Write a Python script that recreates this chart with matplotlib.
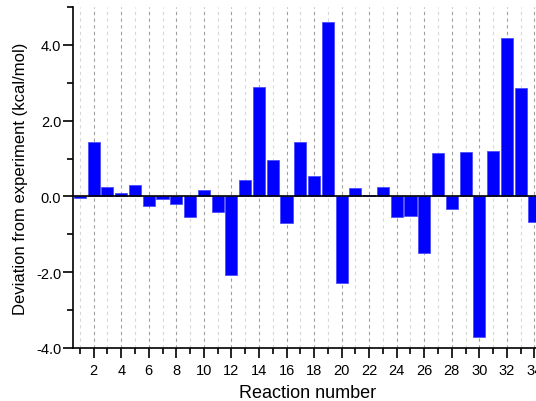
import numpy as np
import matplotlib.pyplot as plt
from matplotlib.ticker import MultipleLocator, FormatStrFormatter

plt.rcParams['font.family'] = ['Liberation Sans', 'DejaVu Sans']

# reaction index and deviation (kcal/mol)
reactions = np.arange(1, 35)
deviation = [-0.05, 1.44, 0.25, 0.10, 0.30, -0.24, -0.06, -0.20, -0.53, 0.16,
             -0.41, -2.07, 0.44, 2.89, 0.96, -0.70, 1.44, 0.55, 4.61, -2.29,
             0.22, 0.04, 0.24, -0.55, -0.52, -1.49, 1.15, -0.34, 1.17, -3.72,
             1.20, 4.17, 2.85, -0.68]

fig = plt.figure(figsize=(5.36, 4.02), dpi=100)
ax = fig.add_axes([73 / 536, 1 - 349 / 402, 1 - 73 / 536 + 0.01, (349 - 8) / 402])

ax.bar(reactions, deviation, width=0.88, color="#0000ff", edgecolor="#4d4dff",
       linewidth=0.6, zorder=3)
ax.axhline(0, color="black", lw=1.2, zorder=4)

ax.set_xlim(0.5, 34.5)
ax.set_ylim(-4, 5)

ax.xaxis.set_major_locator(MultipleLocator(2))
ax.xaxis.set_minor_locator(MultipleLocator(1))
ax.yaxis.set_major_locator(MultipleLocator(2))
ax.yaxis.set_minor_locator(MultipleLocator(1))
ax.yaxis.set_major_formatter(FormatStrFormatter("%.1f"))

# vertical dashed grid, darker at even numbers
ax.grid(axis="x", which="major", color="#a0a0a0", ls=(0, (3, 3)), lw=0.8, zorder=0)
ax.grid(axis="x", which="minor", color="#d8d8d8", ls=(0, (3, 3)), lw=0.8, zorder=0)

for s in ["top", "right"]:
    ax.spines[s].set_visible(False)
ax.spines["left"].set_linewidth(1.2)
ax.spines["bottom"].set_linewidth(1.2)

ax.tick_params(which="major", direction="out", length=7, width=1.2, labelsize=10.5)
ax.tick_params(axis="y", which="major", pad=1.5)
ax.tick_params(which="minor", direction="out", length=4, width=1.2)

ax.set_xlabel("Reaction number", fontsize=13, labelpad=5)
ax.set_ylabel("Deviation from experiment (kcal/mol)", fontsize=12, labelpad=6)

fig.savefig("out.png", dpi=100)
